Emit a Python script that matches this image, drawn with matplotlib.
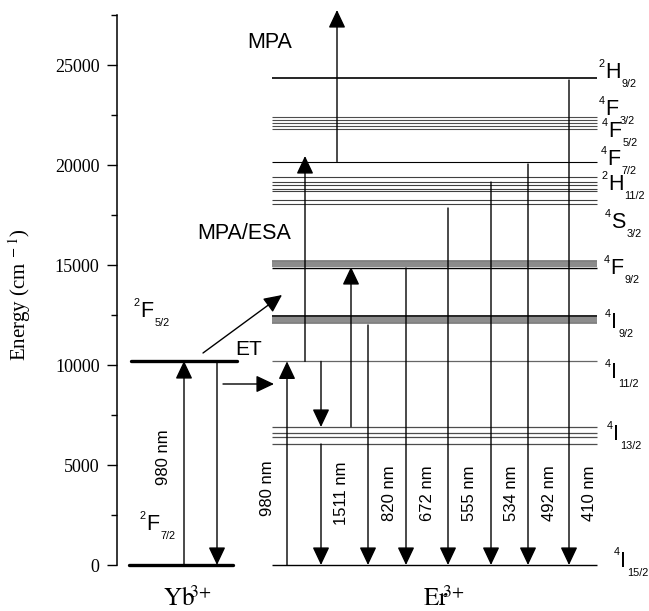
import matplotlib
matplotlib.use('Agg')
import matplotlib.pyplot as plt

plt.rcParams['font.family'] = 'Liberation Sans'
plt.rcParams['mathtext.fontset'] = 'stix'

SERIF = 'Liberation Serif'

# Niveaux d'énergie (cm-1)
yb_levels = [0, 10200]
er_2h92 = [24365]
er_4f32_52 = [22380, 22250, 22110, 21960, 21800]
er_4f72 = [20170]
er_2h112 = [19385, 19150, 18985, 18825, 18700]
er_4s32 = [18235, 18035]
er_4f92 = [15210, 15130, 15050, 14970, 14870]
er_4i92 = [12430, 12340, 12250, 12170, 12090]
er_4i112 = [10180]
er_4i132 = [6917, 6617, 6417, 6050]
er_4i152 = [0]

# Transitions radiatives vers 4I15/2 : longueur d'onde et niveau de départ
emission_nm = ['1511', '820', '672', '555', '534', '492', '410']
emission_from = [6050, 12000, 14850, 17850, 19150, 20050, 24250]
emission_x = [321, 368, 406, 448, 491, 528, 569]

# Absorptions / transferts
yb_pump = (0, 10200)
er_pump = (0, 10180)
er_relax = (10180, 6900)
esa_1 = (6917, 14900)
esa_2 = (10180, 20450)
mpa = (20170, 27750)
et_horiz = (9050, 9050)
et_diag = (10600, 13500)

fig = plt.figure(figsize=(6.49, 6.11), dpi=100)
ax = fig.add_axes([117 / 649, 6 / 611, 532 / 649, 600 / 611])
ax.set_xlim(117, 649)
ax.set_ylim(-2000, 28000)

for s in ['top', 'right', 'bottom']:
    ax.spines[s].set_visible(False)
ax.spines['left'].set_bounds(0, 27500)
ax.spines['left'].set_linewidth(1.1)
ax.set_xticks([])
ax.set_yticks(range(0, 25001, 5000))
ax.set_yticks(range(2500, 27501, 5000), minor=True)
ax.tick_params(axis='y', which='major', direction='out', length=7.5, width=1.0,
               labelsize=13, pad=5)
ax.tick_params(axis='y', which='minor', direction='out', length=4.5, width=1.0)
for lab in ax.get_yticklabels():
    lab.set_fontfamily(SERIF)

ax.set_ylabel(r'Energy (cm$^{\ -1}$)', fontsize=15, family=SERIF)
ax.yaxis.set_label_coords(-0.158, 0.517)

# Niveaux Yb3+
ax.hlines(yb_levels[0], 129, 233, color='k', lw=2.4, capstyle='round')
ax.hlines(yb_levels[1], 131, 237, color='k', lw=2.4, capstyle='round')

# Niveaux Er3+
x0, x1 = 272, 597
ax.hlines(er_2h92, x0, x1, color='k', lw=1.2)
ax.hlines(er_4f32_52, x0, x1, color='0.3', lw=0.8)
ax.hlines(er_4f72, x0, x1, color='k', lw=0.8)
ax.hlines(er_2h112, x0, x1, color='0.25', lw=0.8)
ax.hlines(er_4s32, x0, x1, color='0.25', lw=0.8)
ax.hlines(er_4f92[:-1], x0, x1, color='0.5', lw=1.3)
ax.hlines(er_4f92[-1], x0, x1, color='k', lw=1.0)
ax.hlines(er_4i92[0], x0, x1, color='k', lw=1.2)
ax.hlines(er_4i92[1:], x0, x1, color='0.5', lw=1.3)
ax.hlines(er_4i112, x0, x1, color='0.4', lw=0.9)
ax.hlines(er_4i132, x0, x1, color='0.3', lw=0.9)
ax.hlines(er_4i152, x0, x1, color='k', lw=1.0)


def arrow(x, e, xe=None):
    # e = (depart, arrivee)
    xs = x if xe is None else xe[0]
    xt = x if xe is None else xe[1]
    ax.annotate('', xy=(xt, e[1]), xytext=(xs, e[0]),
                arrowprops=dict(arrowstyle='-|>,head_length=1.1,head_width=0.52',
                                mutation_scale=10, color='k', lw=1.0,
                                shrinkA=0, shrinkB=0))


def level_label(x, e, sup, letter, sub, size=15.5, small=7.8):
    t = ax.text(x, e, letter, ha='left', va='baseline', fontsize=size)
    ax.annotate(sup, xy=(0, e), xycoords=(t, 'data'), xytext=(-0.5, 8),
                textcoords='offset points', ha='right', va='baseline',
                fontsize=small)
    ax.annotate(sub, xy=(1, e), xycoords=(t, 'data'), xytext=(0.8, -6.5),
                textcoords='offset points', ha='left', va='baseline',
                fontsize=small)


# Yb3+
arrow(184, yb_pump)
arrow(217, yb_pump[::-1])
ax.text(164, 5375, '980 nm', rotation=90, ha='center', va='center', fontsize=12)
level_label(140, 12385, '2', 'F', '5/2')
level_label(146, 1750, '2', 'F', '7/2')

# Transfert d'énergie
arrow(None, et_horiz, xe=(223, 274))
arrow(None, et_diag, xe=(203, 282))
ax.text(235, 10500, 'ET', ha='left', va='baseline', fontsize=15)

# Er3+
arrow(287, er_pump)
ax.text(268, 3840, '980 nm', rotation=90, ha='center', va='center', fontsize=12)
arrow(321, er_relax)
arrow(351, esa_1)
arrow(305, esa_2)
arrow(337, mpa)
for nm, e, x in zip(emission_nm, emission_from, emission_x):
    arrow(x, (e, 0))
    ax.text(x + 21, 3600, nm + ' nm', rotation=90, ha='center', va='center',
            fontsize=12)

ax.text(247, 25835, 'MPA', ha='left', va='baseline', fontsize=15.5)
ax.text(197, 16285, 'MPA/ESA', ha='left', va='baseline', fontsize=15.5)

level_label(605, 24335, '2', 'H', '9/2')
level_label(605, 22500, '4', 'F', '3/2')
level_label(608, 21415, '4', 'F', '5/2')
level_label(607, 20000, '4', 'F', '7/2')
level_label(608, 18750, '2', 'H', '11/2')
level_label(611, 16850, '4', 'S', '3/2')
level_label(610, 14550, '4', 'F', '9/2')
level_label(611, 11850, '4', 'I', '9/2')
level_label(611, 9350, '4', 'I', '11/2')
level_label(613, 6250, '4', 'I', '13/2')
level_label(620, -80, '4', 'I', '15/2')

ax.text(188, -2060, r'$\mathrm{Yb}^{\!\!3\!+}$', ha='center', va='baseline',
        fontsize=18)
ax.text(444, -2020, r'$\mathrm{Er}^{\!\!3\!+}$', ha='center', va='baseline',
        fontsize=18)

fig.savefig('out.png', dpi=100)
